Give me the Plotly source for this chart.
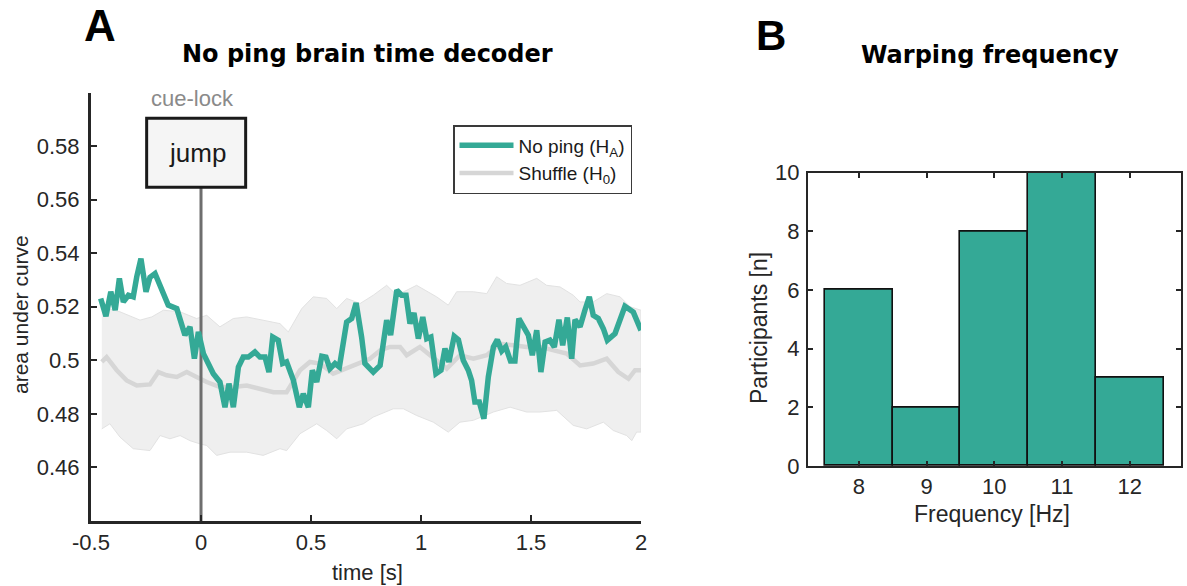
import plotly.graph_objects as go

W, H = 1187, 586

# ---------------- Panel A data ----------------
noping_t = [-0.456, -0.432, -0.41, -0.39, -0.371, -0.353, -0.33, -0.308, -0.292, -0.273, -0.25, -0.232,
            -0.209, -0.179, -0.149, -0.11, -0.073, -0.05, -0.03, -0.012, 0.011, 0.056, 0.086, 0.109,
            0.127, 0.147, 0.17, 0.192, 0.215, 0.245, 0.268, 0.291, 0.309, 0.326, 0.351, 0.371, 0.389,
            0.42, 0.447, 0.465, 0.488, 0.506, 0.526, 0.549, 0.568, 0.586, 0.609, 0.629, 0.662, 0.685,
            0.705, 0.73, 0.745, 0.783, 0.814, 0.844, 0.862, 0.89, 0.912, 0.932, 0.95, 0.968, 0.988,
            1.008, 1.026, 1.045, 1.068, 1.091, 1.109, 1.127, 1.151, 1.17, 1.192, 1.215, 1.23, 1.245,
            1.265, 1.286, 1.306, 1.329, 1.347, 1.367, 1.385, 1.407, 1.427, 1.445, 1.468, 1.488, 1.506,
            1.526, 1.545, 1.564, 1.586, 1.606, 1.627, 1.644, 1.665, 1.685, 1.7, 1.723, 1.745, 1.765,
            1.783, 1.806, 1.829, 1.847, 1.882, 1.905, 1.927, 1.965, 2.0]
noping_auc = [0.5231, 0.5165, 0.5256, 0.5187, 0.5306, 0.5218, 0.5243, 0.5237, 0.5312, 0.538, 0.5256, 0.531,
              0.5324, 0.5262, 0.5206, 0.5193, 0.5094, 0.5125, 0.5006, 0.5106, 0.5025, 0.495, 0.4919, 0.4825,
              0.4913, 0.4825, 0.4975, 0.5012, 0.5012, 0.5031, 0.5012, 0.5012, 0.4956, 0.5087, 0.5075, 0.4988, 0.4994,
              0.4925, 0.4825, 0.4875, 0.4825, 0.4963, 0.4919, 0.5015, 0.5012, 0.4969, 0.4988, 0.4975, 0.5143, 0.5156,
              0.5214, 0.5087, 0.4988, 0.4956, 0.4981, 0.515, 0.5094, 0.5262, 0.5243, 0.5243, 0.5137, 0.5177, 0.5081,
              0.5162, 0.5081, 0.5087, 0.495, 0.4963, 0.5044, 0.4994, 0.509, 0.5077, 0.5, 0.4963, 0.4925, 0.4844,
              0.4844, 0.4782, 0.4938, 0.505, 0.5077, 0.5035, 0.505, 0.4997, 0.4997, 0.5156, 0.5118, 0.5094, 0.5019,
              0.5112, 0.4956, 0.5068, 0.5075, 0.505, 0.5152, 0.5056, 0.516, 0.5006, 0.5152, 0.5125, 0.5187, 0.5237,
              0.5168, 0.5156, 0.5118, 0.5075, 0.51, 0.5156, 0.5202, 0.518, 0.5112]

shuffle_t = [-0.451, -0.429, -0.383, -0.338, -0.292, -0.232, -0.194, -0.156, -0.11, -0.065, -0.02, 0.026,
             0.086, 0.147, 0.208, 0.268, 0.329, 0.389, 0.45, 0.495, 0.541, 0.601, 0.662, 0.705, 0.768,
             0.814, 0.859, 0.905, 0.935, 0.995, 1.056, 1.117, 1.177, 1.238, 1.299, 1.359, 1.42, 1.48,
             1.541, 1.601, 1.662, 1.723, 1.783, 1.844, 1.897, 1.943, 1.973, 2.0]
shuffle_auc = [0.4994, 0.5012, 0.4963, 0.4925, 0.4906, 0.491, 0.4956, 0.4944, 0.4938, 0.4956, 0.4938, 0.4919,
               0.49, 0.49, 0.4906, 0.4894, 0.4881, 0.4881, 0.4963, 0.4994, 0.4988, 0.495, 0.4969, 0.4985, 0.5006,
               0.5037, 0.505, 0.505, 0.5019, 0.505, 0.5012, 0.4969, 0.5019, 0.5006, 0.5019, 0.5062, 0.5056, 0.505,
               0.505, 0.5037, 0.5025, 0.4981, 0.4988, 0.5006, 0.4956, 0.4931, 0.4963, 0.4963]

band_up_t = [-0.451, -0.368, -0.277, -0.224, -0.171, -0.095, -0.02, 0.026, 0.086, 0.147, 0.208, 0.283,
             0.359, 0.397, 0.458, 0.51, 0.571, 0.617, 0.662, 0.723, 0.783, 0.844, 0.89, 0.98, 1.071,
             1.124, 1.162, 1.238, 1.299, 1.344, 1.389, 1.45, 1.526, 1.571, 1.632, 1.692, 1.723, 1.783,
             1.844, 1.905, 1.95, 2.0]
band_up = [0.52, 0.5181, 0.515, 0.5162, 0.5187, 0.5181, 0.5156, 0.5168, 0.5125, 0.5156, 0.5162, 0.515,
           0.5137, 0.5106, 0.5193, 0.5237, 0.5231, 0.5193, 0.5231, 0.5212, 0.5243, 0.528, 0.5243, 0.528, 0.5237,
           0.5206, 0.5256, 0.5256, 0.5249, 0.5312, 0.5287, 0.528, 0.5306, 0.528, 0.5274, 0.5243, 0.5218, 0.5218,
           0.5249, 0.5237, 0.52, 0.5187]
band_lo_t = [-0.451, -0.414, -0.368, -0.308, -0.232, -0.186, -0.141, -0.095, -0.05, -0.005, 0.026, 0.071,
             0.132, 0.208, 0.283, 0.359, 0.389, 0.45, 0.526, 0.571, 0.617, 0.662, 0.738, 0.783, 0.874,
             0.92, 0.98, 1.056, 1.124, 1.177, 1.238, 1.329, 1.405, 1.48, 1.541, 1.617, 1.692, 1.753,
             1.829, 1.874, 1.935, 1.958, 1.98, 2.0]
band_lo = [0.4744, 0.4763, 0.4713, 0.467, 0.4663, 0.4719, 0.4707, 0.4719, 0.47, 0.4688, 0.4682, 0.4645,
           0.4657, 0.4657, 0.4645, 0.467, 0.4663, 0.4726, 0.4763, 0.4738, 0.4707, 0.4744, 0.4763, 0.4788, 0.4819,
           0.4819, 0.4794, 0.4769, 0.4732, 0.4769, 0.4776, 0.4807, 0.4825, 0.4807, 0.4807, 0.4813, 0.4757, 0.4744,
           0.4769, 0.4738, 0.4719, 0.47, 0.4732, 0.4732]

event_t = 0.0
xA_ticks = [-0.5, 0, 0.5, 1, 1.5, 2]
xA_ticktext = ["-0.5", "0", "0.5", "1", "1.5", "2"]
yA_ticks = [0.46, 0.48, 0.50, 0.52, 0.54, 0.56, 0.58]
yA_ticktext = ["0.46", "0.48", "0.5", "0.52", "0.54", "0.56", "0.58"]
yA_range = [0.44, 0.60]

# ---------------- Panel B data ----------------
freq_hz = [8, 9, 10, 11, 12]
participants = [6, 2, 8, 10, 3]
yB_ticks = [0, 2, 4, 6, 8, 10]

TEAL = "#34a996"
INK = "#262626"
FONT = "Liberation Sans, Arial, Helvetica, sans-serif"
TFONT = "DejaVu Sans, Liberation Sans, Arial, sans-serif"


def px(x):
    return x / W


def py(y):
    return 1 - y / H


fig = go.Figure()

# shuffle band
fig.add_trace(go.Scatter(
    x=band_up_t + band_lo_t[::-1], y=band_up + band_lo[::-1],
    fill="toself", fillcolor="#efefef", mode="lines",
    line=dict(color="#e2e2e2", width=1), showlegend=False, hoverinfo="skip",
    xaxis="x", yaxis="y"))
# shuffle mean
fig.add_trace(go.Scatter(
    x=shuffle_t, y=shuffle_auc, mode="lines", name="Shuffle (H<sub>0</sub>)",
    line=dict(color="#d6d6d6", width=4.5), xaxis="x", yaxis="y", legendrank=2))
# cue line
box_bottom = 0.5646
fig.add_trace(go.Scatter(
    x=[event_t, event_t], y=[yA_range[0], box_bottom], mode="lines", showlegend=False,
    line=dict(color="#6e6e6e", width=3), xaxis="x", yaxis="y", hoverinfo="skip"))
# no ping
fig.add_trace(go.Scatter(
    x=noping_t, y=noping_auc, mode="lines", name="No ping (H<sub>A</sub>)",
    line=dict(color=TEAL, width=5.5), xaxis="x", yaxis="y", legendrank=1))

# histogram bars
fig.add_trace(go.Bar(
    x=freq_hz, y=participants, width=1, marker=dict(color=TEAL, line=dict(color="#111111", width=1.6)),
    showlegend=False, xaxis="x2", yaxis="y2"))

axis_common = dict(showgrid=False, zeroline=False, showline=True, linecolor=INK, automargin=False,
                   ticks="inside", tickcolor=INK)

fig.update_layout(
    width=W, height=H, margin=dict(l=0, r=0, t=0, b=0, autoexpand=False),
    paper_bgcolor="white", plot_bgcolor="rgba(0,0,0,0)",
    font=dict(family=FONT, color=INK),
    bargap=0,
    xaxis=dict(domain=[px(91), px(641)], range=[-0.5, 2], tickvals=xA_ticks, ticktext=xA_ticktext,
               linewidth=3, tickwidth=2, ticklen=6, anchor="y", ticklabelstandoff=0,
               tickfont=dict(family=FONT, size=22, color=INK), **axis_common),
    yaxis=dict(domain=[py(521), py(92.5)], range=yA_range, tickvals=yA_ticks, ticktext=yA_ticktext,
               linewidth=3, tickwidth=2, ticklen=6, anchor="x", ticklabelstandoff=4,
               minor=dict(tickvals=[yA_range[1]], ticks="inside", ticklen=6, tickwidth=2, tickcolor=INK,
                          showgrid=False),
               tickfont=dict(family=FONT, size=22, color=INK), **axis_common),
    xaxis2=dict(domain=[px(808), px(1180.5)], range=[7.25, 12.75], tickvals=freq_hz,
                linewidth=2, tickwidth=1.5, ticklen=5, anchor="y2", mirror="ticks", ticklabelstandoff=0,
                tickfont=dict(family=FONT, size=22, color=INK), **axis_common),
    yaxis2=dict(domain=[py(466), py(172.7)], range=[0, 10], tickvals=yB_ticks,
                linewidth=2, tickwidth=1.5, ticklen=5, anchor="x2", mirror="ticks", ticklabelstandoff=2,
                tickfont=dict(family=FONT, size=22, color=INK), **axis_common),
    legend=dict(x=px(453), y=py(125), xanchor="left", yanchor="top",
                bgcolor="white", bordercolor="#3a3a3a", borderwidth=1.5,
                font=dict(family=FONT, size=19, color="#1a1a1a"),
                itemwidth=54, tracegroupgap=0),
)

# cue-lock box (in data coordinates of panel A)
fig.add_shape(type="rect", xref="x", yref="y", x0=-0.247, x1=0.203, y0=box_bottom, y1=0.5904,
              line=dict(color="#1a1a1a", width=3), fillcolor="#f5f5f5", layer="above")

annotations = [
    dict(text="<b>A</b>", x=px(100), y=py(26), font=dict(size=44, color="black", family=FONT)),
    dict(text="<b>No ping brain time decoder</b>", x=px(367), y=py(54), font=dict(size=24, color="black", family=TFONT)),
    dict(text="<b>B</b>", x=px(771), y=py(35), font=dict(size=42, color="black", family=FONT)),
    dict(text="<b>Warping frequency</b>", x=px(990), y=py(55), font=dict(size=24, color="black", family=TFONT)),
    dict(text="cue-lock", x=px(192), y=py(98), font=dict(size=22, color="#8a8a8a", family=FONT)),
    dict(text="jump", x=px(197), y=py(153), font=dict(size=26, color="#1a1a1a", family=FONT)),
    dict(text="area under curve", x=px(20), y=py(315), textangle=-90, font=dict(size=21, color=INK, family=FONT)),
    dict(text="time [s]", x=px(367), y=py(572), font=dict(size=22, color=INK, family=FONT)),
    dict(text="Participants [n]", x=px(759), y=py(328), textangle=-90, font=dict(size=23, color=INK, family=FONT)),
    dict(text="Frequency [Hz]", x=px(992), y=py(514), font=dict(size=23, color=INK, family=FONT)),
]
for a in annotations:
    a.setdefault("xanchor", "center")
    a.setdefault("yanchor", "middle")
    a["xref"] = "paper"
    a["yref"] = "paper"
    a["showarrow"] = False
    fig.add_annotation(**a)

fig.write_html("out.html")
